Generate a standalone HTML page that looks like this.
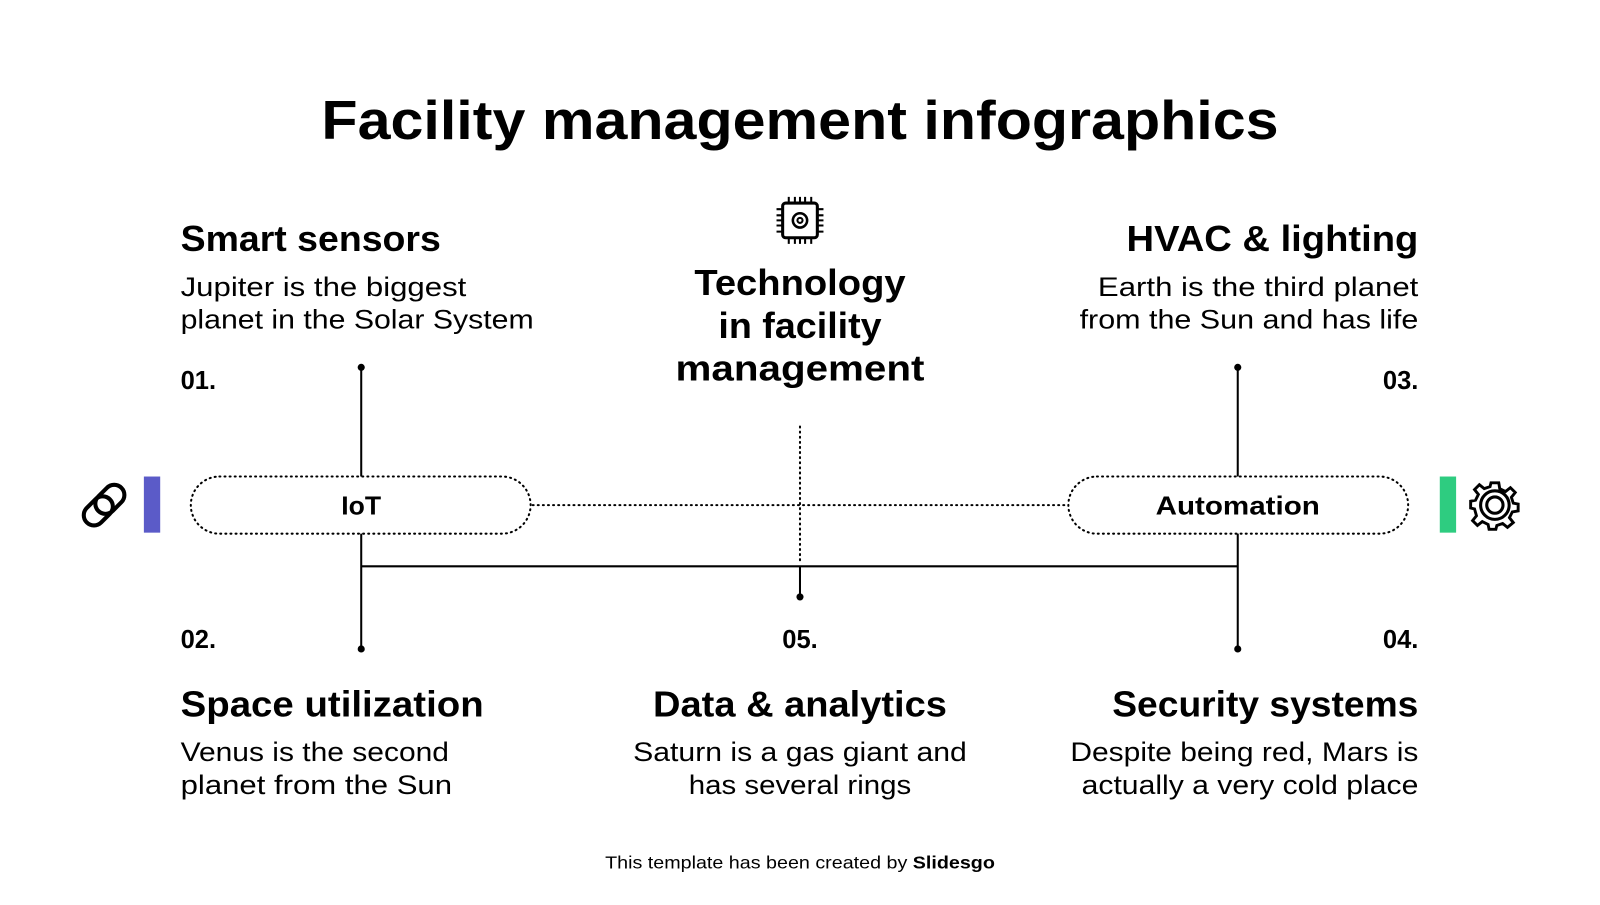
<!DOCTYPE html>
<html><head><meta charset="utf-8"><style>
body{margin:0;width:1600px;height:900px;background:#fff;overflow:hidden}
svg text{font-family:"Liberation Sans",sans-serif;fill:#000}
</style></head><body>
<svg width="1600" height="900" viewBox="0 0 1600 900">
<g transform="scale(1.0204)">
<text x="784" y="136" font-size="54" font-weight="bold" text-anchor="middle" textLength="938" lengthAdjust="spacingAndGlyphs">Facility management infographics</text>

<g font-size="35" font-weight="bold">
<text x="177" y="246" textLength="255" lengthAdjust="spacingAndGlyphs">Smart sensors</text>
<text x="1390" y="246" text-anchor="end" textLength="286" lengthAdjust="spacingAndGlyphs">HVAC &amp; lighting</text>
<text x="177" y="702" textLength="297" lengthAdjust="spacingAndGlyphs">Space utilization</text>
<text x="784" y="702" text-anchor="middle" textLength="288" lengthAdjust="spacingAndGlyphs">Data &amp; analytics</text>
<text x="1390" y="702" text-anchor="end" textLength="300" lengthAdjust="spacingAndGlyphs">Security systems</text>
</g>
<g font-size="35" font-weight="bold" text-anchor="middle">
<text x="784" y="289" textLength="207" lengthAdjust="spacingAndGlyphs">Technology</text>
<text x="784" y="331" textLength="160" lengthAdjust="spacingAndGlyphs">in facility</text>
<text x="784" y="373" textLength="244" lengthAdjust="spacingAndGlyphs">management</text>
</g>
<g font-size="26">
<text x="177" y="290" textLength="280" lengthAdjust="spacingAndGlyphs">Jupiter is the biggest</text>
<text x="177" y="322" textLength="346" lengthAdjust="spacingAndGlyphs">planet in the Solar System</text>
<text x="1390" y="290" text-anchor="end" textLength="314" lengthAdjust="spacingAndGlyphs">Earth is the third planet</text>
<text x="1390" y="322" text-anchor="end" textLength="332" lengthAdjust="spacingAndGlyphs">from the Sun and has life</text>
<text x="177" y="746" textLength="263" lengthAdjust="spacingAndGlyphs">Venus is the second</text>
<text x="177" y="778" textLength="266" lengthAdjust="spacingAndGlyphs">planet from the Sun</text>
<text x="784" y="746" text-anchor="middle" textLength="327" lengthAdjust="spacingAndGlyphs">Saturn is a gas giant and</text>
<text x="784" y="778" text-anchor="middle" textLength="218" lengthAdjust="spacingAndGlyphs">has several rings</text>
<text x="1390" y="746" text-anchor="end" textLength="341" lengthAdjust="spacingAndGlyphs">Despite being red, Mars is</text>
<text x="1390" y="778" text-anchor="end" textLength="330" lengthAdjust="spacingAndGlyphs">actually a very cold place</text>
</g>
<g font-size="25" font-weight="bold">
<text x="177" y="381">01.</text>
<text x="1390" y="381" text-anchor="end">03.</text>
<text x="177" y="635">02.</text>
<text x="784" y="635" text-anchor="middle">05.</text>
<text x="1390" y="635" text-anchor="end">04.</text>
</g>

<g stroke="#000" stroke-width="2" fill="none">
<line x1="354" y1="360" x2="354" y2="467"/>
<line x1="354" y1="523" x2="354" y2="636"/>
<line x1="1213" y1="360" x2="1213" y2="467"/>
<line x1="1213" y1="523" x2="1213" y2="636"/>
<line x1="354" y1="555" x2="1213" y2="555"/>
<line x1="784" y1="555" x2="784" y2="585"/>
</g>
<g fill="#000">
<circle cx="354" cy="360" r="3.5"/><circle cx="354" cy="636" r="3.5"/>
<circle cx="1213" cy="360" r="3.5"/><circle cx="1213" cy="636" r="3.5"/>
<circle cx="784" cy="585" r="3.5"/>
</g>
<g stroke="#000" stroke-width="2" fill="none" stroke-dasharray="1 4" stroke-linecap="round">
<rect x="187" y="467" width="333" height="56" rx="28"/>
<rect x="1047" y="467" width="333" height="56" rx="28"/>
<line x1="522" y1="495" x2="1045" y2="495"/>
<line x1="784" y1="418" x2="784" y2="553"/>
</g>
<text x="354" y="504" font-size="25" font-weight="bold" text-anchor="middle" textLength="39" lengthAdjust="spacingAndGlyphs">IoT</text>
<text x="1213" y="504" font-size="25" font-weight="bold" text-anchor="middle" textLength="161" lengthAdjust="spacingAndGlyphs">Automation</text>

<rect x="141" y="467" width="16" height="55" fill="#5b5bc8"/>
<rect x="1411" y="467" width="16" height="55" fill="#2ecc80"/>

<g stroke="#000" stroke-width="4" fill="none" transform="rotate(-45 102 495)">
<rect x="78" y="485" width="32" height="20" rx="10"/>
<rect x="94" y="485" width="32" height="20" rx="10"/>
</g>
<g transform="translate(1465 495)" fill="none" stroke="#000" stroke-width="3">
<path d="M-4 -23 L4 -23 L5 -17 L11 -14 L16 -18 L21 -13 L17 -8 L19 -2 L24 -1 L24 6 L18 7 L15 13 L19 18 L13 23 L8 19 L2 21 L1 25 L-6 25 L-7 20 L-13 17 L-18 21 L-23 16 L-19 11 L-21 4 L-25 3 L-25 -4 L-20 -5 L-17 -11 L-21 -16 L-16 -21 L-11 -17 L-5 -19 Z" transform="scale(0.95)"/>
<circle r="14"/><circle r="8"/>
</g>
<g transform="translate(784 216)" fill="none" stroke="#000" stroke-width="3">
<rect x="-17" y="-17" width="34" height="34" rx="3"/>
<g stroke-width="2">
<path d="M-11 -17v-6M-5 -17v-6M0 -17v-6M5 -17v-6M11 -17v-6M-11 17v6M-5 17v6M0 17v6M5 17v6M11 17v6M-17 -11h-6M-17 -5h-6M-17 0h-6M-17 5h-6M-17 11h-6M17 -11h6M17 -5h6M17 0h6M17 5h6M17 11h6"/>
</g>
<circle r="7" stroke-width="2.5"/><circle r="2.5" stroke-width="2"/>
</g>

<text x="784" y="851" font-size="17" text-anchor="middle" textLength="382" lengthAdjust="spacingAndGlyphs">This template has been created by <tspan font-weight="bold">Slidesgo</tspan></text>
</g>
</svg>
</body></html>
